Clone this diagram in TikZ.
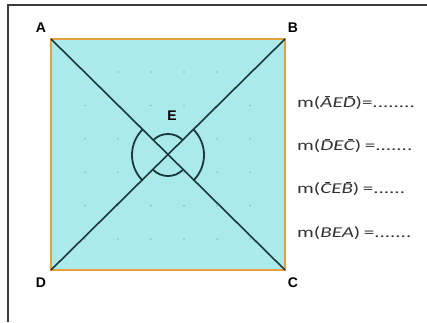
\documentclass[tikz,border=0pt]{standalone}
\usepackage{fontspec}
\setmainfont{Carlito}
\newfontfamily\labelfont{Liberation Sans}
\usetikzlibrary{positioning,calc}
\definecolor{sqFill}{RGB}{171, 234, 235}
\definecolor{sqEdge}{RGB}{228, 160, 62}
\definecolor{diagLine}{RGB}{28, 56, 60}
\definecolor{gridDot}{RGB}{120, 196, 198}
\definecolor{frameGray}{RGB}{60, 60, 60}
\definecolor{textGray}{RGB}{50, 50, 50}
\newcommand{\barred}[1]{\rlap{\raisebox{11pt}{\kern3.5pt\rule{3.5pt}{0.6pt}}}#1}
\newcommand{\ang}[3]{m(\textit{#1#2#3})}
\newcommand{\wide}[1]{\scalebox{1.4}[1]{#1}}

\begin{document}
\begin{tikzpicture}[x=1pt,y=-1pt,
    vertex/.style={font=\labelfont\bfseries\fontsize{14}{15}\selectfont, inner sep=0pt},
    measure/.style={font=\fontsize{15}{17}\selectfont, text=textGray, anchor=west, inner sep=0pt}]
            \useasboundingbox (0,0) rectangle (427,322);
            \draw[frameGray, line width=1.4pt] (8,322) -- (8,5) -- (427,5);

            % square ABCD
            \coordinate (A) at (51,39);
            \coordinate (B) at (285,39);
            \coordinate (C) at (285,270);
            \coordinate (D) at (51,270);
            \coordinate (E) at (168,155);
            \fill[sqFill] (A) rectangle (C);
            \foreach \i in {0,...,5}
                \foreach \j in {0,...,5}
                    \fill[gridDot] (85+33*\i,72+33.4*\j) circle (0.9);
            \draw[sqEdge, line width=2.4pt] (A) -- (B) -- (C) -- (D) -- cycle;
            \draw[diagLine, line width=1.6pt] (A) -- (C);
            \draw[diagLine, line width=1.6pt] (B) -- (D);

            % angle marks at E
            \draw[diagLine, line width=1.8pt] ($(E)+(135:36)$) arc (135:225:36);
            \draw[diagLine, line width=1.8pt] ($(E)+(-45:36)$) arc (-45:45:36);
            \draw[diagLine, line width=1.8pt] ($(E)+(45:21)$) arc (45:135:21);
            \draw[diagLine, line width=1.8pt] ($(E)+(225:21)$) arc (225:315:21);

            \node[vertex] (lA) at (41,28) {A};
            \node[vertex] (lB) at (293,28) {B};
            \node[vertex] (lC) at (293,283) {C};
            \node[vertex] (lD) at (41,283) {D};
            \node[vertex] (lE) at (172,116) {E};

            \node[measure] (mAED) at (297,103) {\wide{\ang{\barred{A}}{E}{\barred{D}}=........}};
            \node[measure] (mDEC) at (297,146) {\wide{\ang{\barred{D}}{E}{\barred{C}}\,=.......}};
            \node[measure] (mCEB) at (297,189) {\wide{\ang{\barred{C}}{E}{\barred{B}}\,=......}};
            \node[measure] (mBEA) at (297,233) {\wide{\ang{B}{E}{A}\,=.......}};
        \end{tikzpicture}
\end{document}
